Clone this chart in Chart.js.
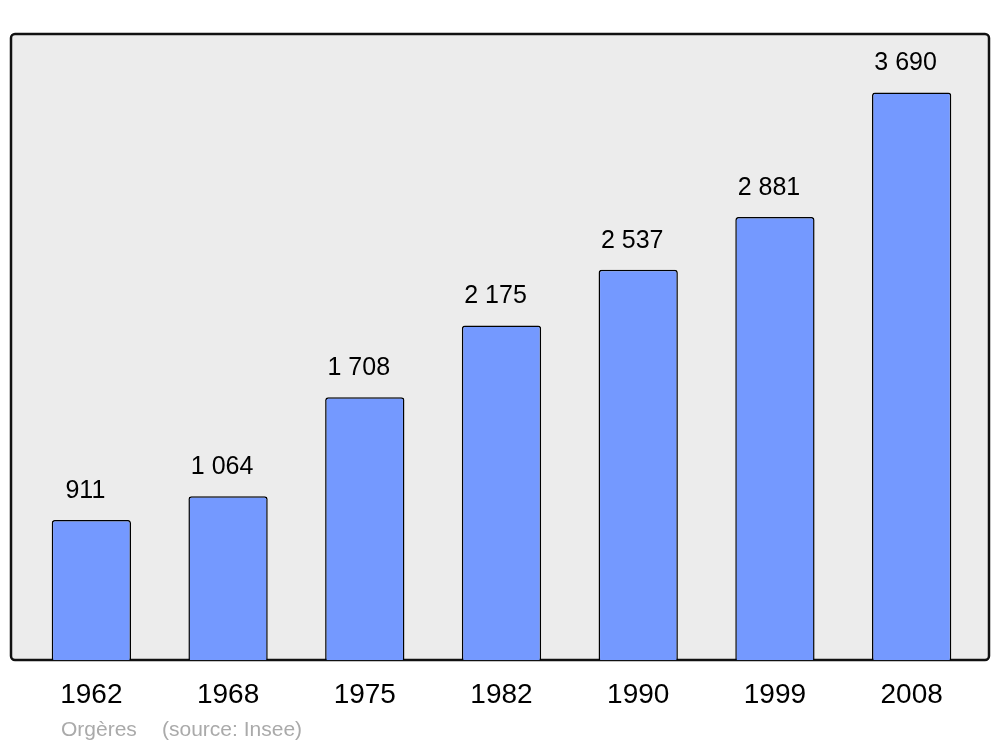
<!DOCTYPE html>
<html>
<head>
<meta charset="utf-8">
<script src="https://cdn.jsdelivr.net/npm/chart.js@4"></script>
<style>
  html, body { margin: 0; padding: 0; background: #fff; }
  #wrap { width: 1000px; height: 747px; }
</style>
</head>
<body>
<div id="wrap"><canvas id="chart" width="1000" height="747"></canvas></div>
<script>
// Population data
const years = ['1962', '1968', '1975', '1982', '1990', '1999', '2008'];
const population = [911, 1064, 1708, 2175, 2537, 2881, 3690];
const footerPlace = 'Orgères';
const footerSource = '(source: Insee)';

const FONT = '"Liberation Sans", Arial, sans-serif';

function formatNumber(n) {
    return String(n).replace(/\B(?=(\d{3})+(?!\d))/g, ' ');
}

// Grey rounded panel behind the bars, year labels and footer
const panelPlugin = {
    id: 'panel',
    beforeDatasetsDraw(chart) {
        const { ctx, chartArea } = chart;
        const x = chartArea.left - 12, y = chartArea.top;
        const w = chartArea.right + 9 - x, h = chartArea.bottom - y;
        ctx.save();
        ctx.beginPath();
        ctx.roundRect(x, y, w, h, 4);
        ctx.fillStyle = '#ececec';
        ctx.fill();
        ctx.lineWidth = 2.5;
        ctx.strokeStyle = '#111';
        ctx.stroke();
        ctx.restore();
    },
    afterDraw(chart) {
        const { ctx, chartArea } = chart;
        const xScale = chart.scales.x;
        ctx.save();
        ctx.font = '28px ' + FONT;
        ctx.fillStyle = '#000';
        ctx.textAlign = 'center';
        ctx.textBaseline = 'middle';
        years.forEach((label, i) => {
            ctx.fillText(label, xScale.getPixelForTick(i), chartArea.bottom + 35);
        });
        ctx.font = '21px ' + FONT;
        ctx.fillStyle = '#aaaaaa';
        ctx.textAlign = 'left';
        ctx.fillText(footerPlace, 61, chartArea.bottom + 70);
        ctx.fillText(footerSource, 162, chartArea.bottom + 70);
        ctx.restore();
    }
};

// Value labels above bars
const valueLabels = {
    id: 'valueLabels',
    afterDatasetsDraw(chart) {
        const { ctx } = chart;
        const meta = chart.getDatasetMeta(0);
        ctx.save();
        ctx.font = '25px ' + FONT;
        ctx.fillStyle = '#000';
        ctx.textAlign = 'center';
        ctx.textBaseline = 'middle';
        meta.data.forEach((bar, i) => {
            ctx.fillText(formatNumber(population[i]), bar.x - 6, bar.y - 29);
        });
        ctx.restore();
    }
};

const ctx = document.getElementById('chart').getContext('2d');
new Chart(ctx, {
    type: 'bar',
    data: {
        labels: years,
        datasets: [{
            data: population,
            backgroundColor: '#7499ff',
            borderColor: '#000',
            borderWidth: 1.5,
            borderRadius: 3,
            borderSkipped: 'bottom',
            categoryPercentage: 1,
            barPercentage: 0.58
        }]
    },
    options: {
        responsive: false,
        animation: false,
        layout: { padding: { left: 23, right: 20, top: 34, bottom: 87 } },
        plugins: {
            legend: { display: false },
            tooltip: { enabled: false }
        },
        scales: {
            x: { display: false },
            y: {
                display: false,
                min: 0,
                max: 4070
            }
        }
    },
    plugins: [panelPlugin, valueLabels]
});
</script>
</body>
</html>
